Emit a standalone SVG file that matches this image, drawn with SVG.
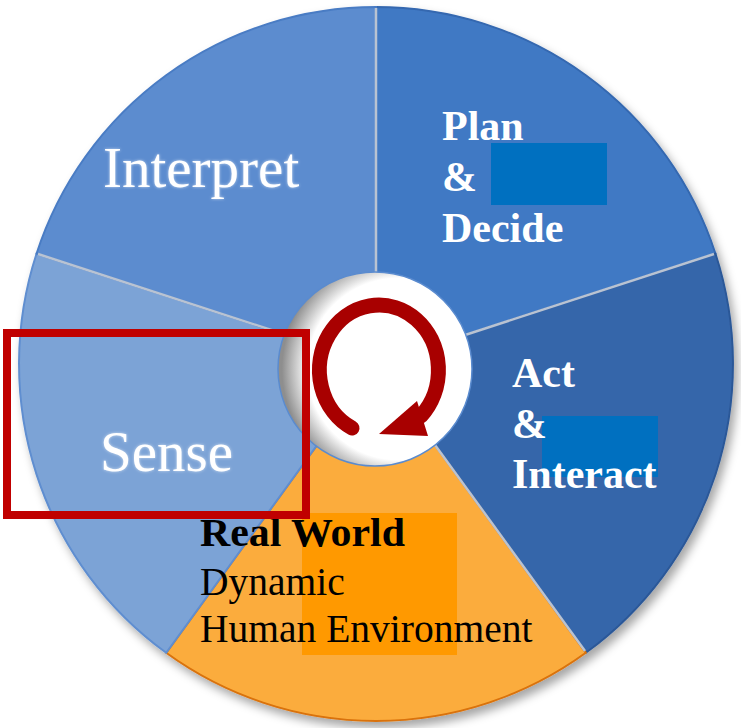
<svg xmlns="http://www.w3.org/2000/svg" width="741" height="728" viewBox="0 0 741 728">
<defs>
<filter id="shadow" x="-10%" y="-10%" width="120%" height="120%">
<feDropShadow dx="4" dy="6" stdDeviation="5" flood-color="#000" flood-opacity="0.35"/>
</filter>
<filter id="glow" x="-10%" y="-20%" width="120%" height="140%">
<feDropShadow dx="0" dy="0" stdDeviation="1.5" flood-color="#ffffff" flood-opacity="0.6"/>
</filter>
<radialGradient id="hole" cx="0.62" cy="0.5" r="0.6">
<stop offset="0" stop-color="#ffffff"/>
<stop offset="0.78" stop-color="#ffffff"/>
<stop offset="1" stop-color="#8e8e8e"/>
</radialGradient>
<style>
.seg{stroke-width:2}
.gap{stroke:#b9c3d2;stroke-width:2.5;fill:none}
.lbl{font-family:"Liberation Serif","Times New Roman",serif;fill:#ffffff}
.b{font-weight:bold;font-size:42px}
.big{font-size:57px}
.rw{font-family:"Liberation Serif","Times New Roman",serif;fill:#000000;font-size:39.5px}
.mask{fill:#0070c0}
</style>
</defs>
<rect width="741" height="728" fill="#ffffff"/>
<g filter="url(#shadow)">
<g id="plan">
<path class="seg" d="M376,364 L376,7 A357,357 0 0 1 715.5,253.7 Z" fill="#4079c4" stroke="#3468b0"/>
</g>
<g id="act">
<path class="seg" d="M376,364 L715.5,253.7 A357,357 0 0 1 585.8,652.8 Z" fill="#3666aa" stroke="#2c5898"/>
</g>
<g id="realworld">
<path class="seg" d="M376,364 L585.8,652.8 A357,357 0 0 1 166.2,652.8 Z" fill="#fbac3e" stroke="#d9720a"/>
</g>
<g id="sense">
<path class="seg" d="M376,364 L166.2,652.8 A357,357 0 0 1 36.5,253.7 Z" fill="#7ca3d6" stroke="#5f8ed0"/>
</g>
<g id="interpret">
<path class="seg" d="M376,364 L36.5,253.7 A357,357 0 0 1 376,7 Z" fill="#5b8ccf" stroke="#4a7cc4"/>
</g>
</g>
<g id="gaps">
<line class="gap" x1="376" y1="364" x2="376" y2="8"/>
<line class="gap" x1="376" y1="364" x2="714" y2="254"/>
<line class="gap" x1="376" y1="364" x2="38" y2="254"/>
<line class="gap" x1="376" y1="364" x2="585" y2="651"/>
</g>
<circle id="hub" cx="375" cy="369" r="97" fill="url(#hole)" stroke="#5a8bcf" stroke-width="1.5"/>
<g id="connectors">
<path d="M352,428 A59.5,65 0 1 1 421,416" fill="none" stroke="#a80000" stroke-width="15" stroke-linecap="round"/>
<polygon points="379,434 417,401 428,436" fill="#a80000"/>
</g>
<rect class="mask" x="491" y="143" width="116" height="62"/>
<rect class="mask" x="542" y="416" width="116" height="61"/>
<rect x="302" y="513" width="155" height="142" fill="#ff9900"/>
<g id="interpret-label">
<text class="lbl big" x="103" y="187" filter="url(#glow)">Interpret</text>
</g>
<g id="plan-label">
<text class="lbl b" x="442" y="140">Plan</text>
<text class="lbl b" x="442" y="191">&amp;</text>
<text class="lbl b" x="442" y="242">Decide</text>
</g>
<g id="act-label">
<text class="lbl b" x="512" y="387">Act</text>
<text class="lbl b" x="512" y="438">&amp;</text>
<text class="lbl b" x="512" y="488">Interact</text>
</g>
<g id="sense-label">
<text class="lbl big" x="100" y="471" filter="url(#glow)">Sense</text>
</g>
<g id="realworld-label">
<text class="rw" x="200" y="546" font-weight="bold" font-size="42" textLength="205" lengthAdjust="spacingAndGlyphs">Real World</text>
<text class="rw" x="200" y="595">Dynamic</text>
<text class="rw" x="200" y="642">Human Environment</text>
</g>
<rect id="highlight" x="7" y="333" width="299" height="182" fill="none" stroke="#c00000" stroke-width="8"/>
</svg>
